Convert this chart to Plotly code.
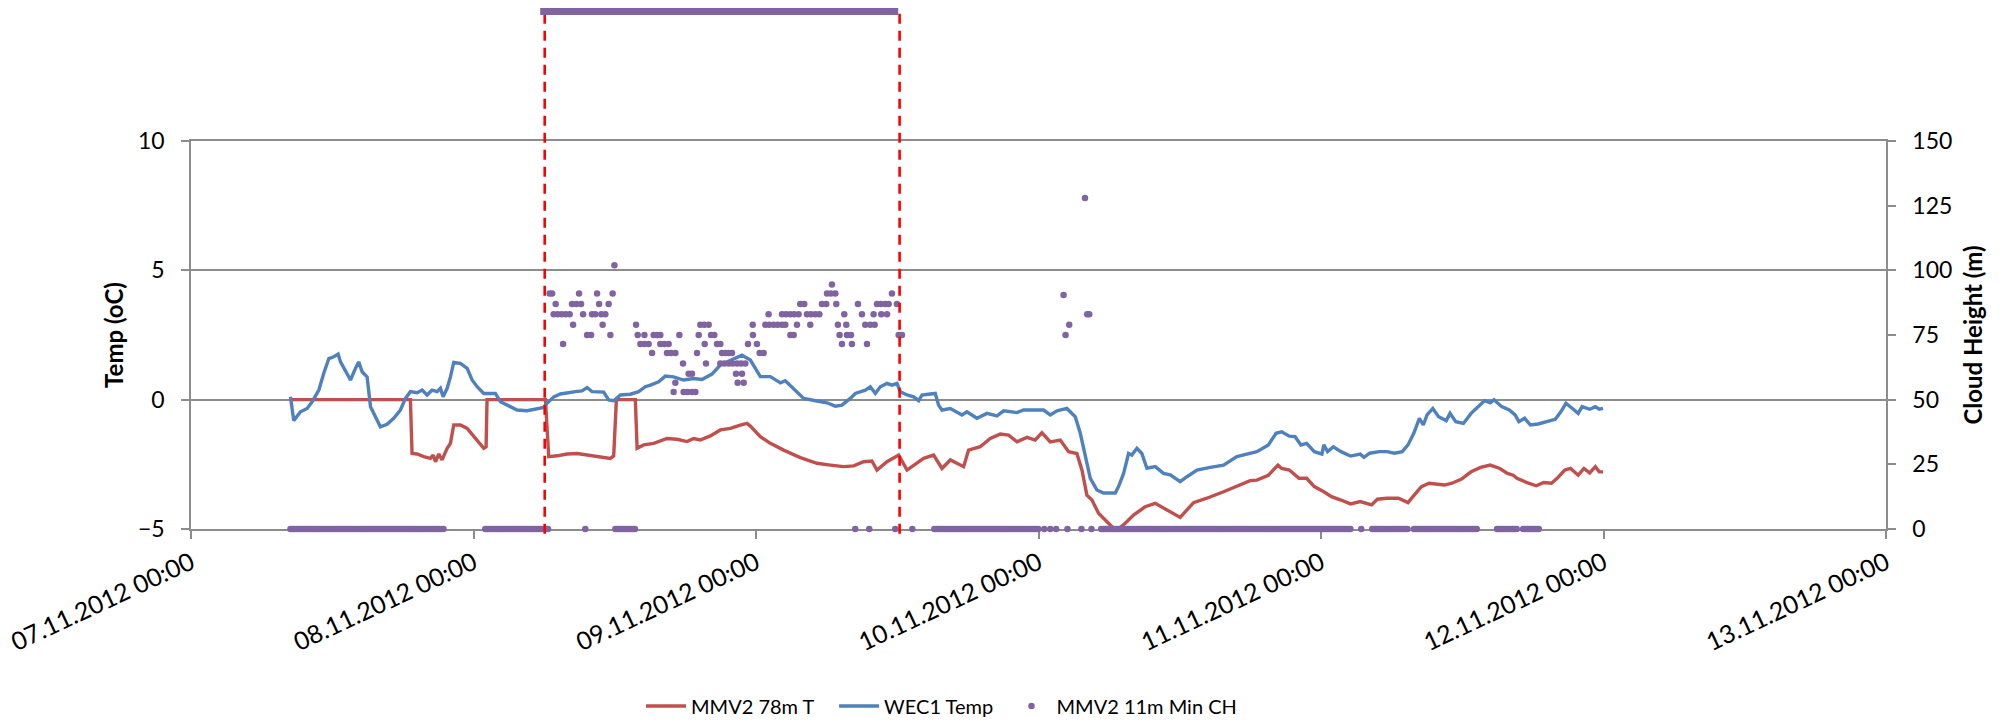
import pandas as pd
import plotly.graph_objects as go

BASE = pd.Timestamp("2012-11-07 00:00")

# ---- WEC1 Temp (hours since 07.11.2012 00:00, degC)
wec1_h = [8.45, 8.73, 9.30, 9.87, 10.29, 10.86, 11.28, 11.71, 12.13, 12.50, 12.70, 13.12, 13.55, 13.97,
          14.25, 14.54, 14.96, 15.25, 15.67, 16.09, 16.66, 17.22, 17.79, 18.22, 18.64, 19.21, 19.64,
          20.06, 20.48, 20.91, 21.19, 21.42, 21.76, 22.04, 22.32, 22.89, 23.46, 23.88, 24.31, 24.87,
          25.44, 25.86, 26.29, 27.14, 27.70, 28.55, 29.40, 29.97, 30.25, 30.82, 31.38, 31.95, 32.66,
          33.22, 33.65, 34.07, 35.06, 35.48, 35.91, 36.48, 37.33, 38.03, 38.60, 39.03, 39.73, 40.30,
          41.00, 41.85, 42.70, 43.41, 44.26, 44.97, 45.82, 46.81, 47.52, 48.37, 49.22, 50.07, 50.49,
          51.20, 52.05, 53.18, 54.03, 54.74, 55.30, 56.01, 56.44, 57.29, 57.71, 58.14, 58.56, 59.13,
          59.55, 59.98, 60.26, 60.83, 61.39, 61.82, 62.10, 62.81, 63.23, 63.51, 63.80, 64.51, 65.50,
          65.92, 66.77, 67.62, 68.47, 69.04, 70.17, 70.73, 71.87, 72.43, 73.00, 73.57, 74.41, 75.12,
          75.55, 75.97, 76.40, 76.96, 77.53, 78.52, 78.80, 79.23, 79.65, 79.93, 80.36, 80.78, 81.21,
          81.92, 82.62, 83.19, 84.04, 84.61, 85.46, 86.59, 87.72, 88.85, 89.98, 90.55, 91.53, 92.18,
          92.66, 93.31, 93.80, 94.29, 94.78, 95.43, 96.08, 96.24, 96.56, 97.05, 97.70, 98.51, 99.33,
          99.65, 100.14, 100.95, 101.60, 102.25, 102.90, 103.39, 103.88, 104.36, 104.69, 105.01,
          105.50, 105.99, 106.64, 106.96, 107.45, 108.10, 108.75, 109.56, 109.89, 110.38, 110.70,
          111.35, 112.00, 112.49, 112.81, 113.30, 113.79, 114.44, 115.25, 115.90, 116.39, 116.81,
          117.36, 117.85, 118.18, 118.83, 119.31, 119.64, 119.96]
wec1_t = [0.11, -0.81, -0.47, -0.34, -0.08, 0.37, 1.02, 1.59, 1.66, 1.76, 1.46, 1.14, 0.76, 1.21,
          1.46, 1.08, 0.88, -0.27, -0.66, -1.05, -0.95, -0.72, -0.40, 0.05, 0.31, 0.27, 0.37,
          0.18, 0.37, 0.31, 0.44, 0.11, 0.44, 0.88, 1.44, 1.40, 1.21, 0.76, 0.50, 0.24,
          0.24, 0.24, -0.08, -0.27, -0.40, -0.43, -0.34, -0.30, -0.14, 0.11, 0.22, 0.27, 0.31,
          0.34, 0.47, 0.31, 0.29, -0.01, -0.04, 0.18, 0.21, 0.31, 0.50, 0.56, 0.69, 0.91,
          0.88, 0.76, 0.82, 0.78, 0.99, 1.34, 1.53, 1.72, 1.53, 0.89, 0.89, 0.65, 0.73,
          0.43, 0.05, -0.05, -0.12, -0.25, -0.21, 0.05, 0.24, 0.37, 0.50, 0.24, 0.50, 0.63,
          0.56, 0.63, 0.31, 0.18, 0.11, -0.04, 0.18, 0.22, 0.24, -0.21, -0.40, -0.34, -0.59,
          -0.47, -0.72, -0.53, -0.63, -0.43, -0.50, -0.40, -0.38, -0.40, -0.59, -0.43, -0.34, -0.66,
          -1.30, -2.20, -3.04, -3.49, -3.61, -3.61, -3.36, -2.85, -2.08, -2.14, -1.88, -2.08, -2.65,
          -2.59, -2.85, -2.91, -3.17, -2.98, -2.72, -2.62, -2.53, -2.20, -2.08, -2.01, -1.75, -1.30,
          -1.24, -1.41, -1.43, -1.75, -1.69, -2.01, -2.10, -1.75, -2.01, -1.82, -2.01, -2.18, -2.10,
          -2.23, -2.07, -2.01, -2.01, -2.07, -2.01, -1.75, -1.30, -0.72, -0.98, -0.59,
          -0.34, -0.66, -0.81, -0.53, -0.85, -0.92, -0.53, -0.21, -0.04, -0.12, 0.00,
          -0.27, -0.40, -0.59, -0.85, -0.72, -0.98, -0.94, -0.85, -0.76, -0.46, -0.14,
          -0.34, -0.53, -0.27, -0.37, -0.27, -0.37, -0.34]

# ---- MMV2 78m T (hours since 07.11.2012 00:00, degC)
mmv2_h = [8.45, 18.64, 18.78, 19.21, 19.77, 20.34, 20.57, 20.77, 21.05, 21.33, 21.76, 22.04, 22.32,
          22.89, 23.46, 24.02, 24.59, 24.87, 25.07, 25.15, 30.11, 30.39, 31.10, 31.95, 32.80, 33.65,
          34.50, 35.06, 35.63, 35.91, 36.14, 37.75, 37.90, 38.46, 39.31, 40.44, 41.29, 42.14, 42.70,
          43.27, 44.12, 44.97, 45.82, 46.67, 47.24, 47.52, 48.37, 49.22, 50.35, 51.77, 53.18, 54.31,
          55.45, 56.30, 57.14, 57.85, 58.28, 59.13, 60.12, 60.83, 61.67, 62.24, 63.09, 63.80, 64.51,
          65.64, 66.06, 67.05, 67.90, 68.75, 69.46, 70.17, 71.02, 71.72, 72.29, 73.00, 73.85, 74.56,
          75.26, 75.69, 76.11, 76.54, 77.10, 77.81, 78.24, 78.66, 79.37, 80.07, 81.06, 81.92, 82.62,
          84.04, 85.17, 86.30, 87.72, 88.85, 89.98, 90.55, 91.53, 92.34, 92.66, 93.31, 94.13, 94.78,
          95.43, 96.24, 96.89, 97.70, 98.51, 99.33, 100.30, 100.79, 101.60, 102.58, 103.39, 104.04,
          104.53, 105.18, 105.83, 106.48, 107.13, 107.94, 108.75, 109.56, 110.38, 111.19, 111.84,
          112.33, 112.65, 112.98, 113.63, 114.28, 114.93, 115.58, 116.06, 116.71, 117.20, 117.85,
          118.34, 118.83, 119.31, 119.64, 119.96]
mmv2_t = [0.00, 0.00, -2.08, -2.10, -2.20, -2.27, -2.14, -2.40, -2.10, -2.33, -1.88, -1.69, -0.98,
          -0.98, -1.11, -1.43, -1.75, -1.88, -1.82, 0.00, 0.00, -2.20, -2.17, -2.10, -2.08, -2.14,
          -2.20, -2.23, -2.27, -2.17, 0.00, 0.00, -1.88, -1.75, -1.69, -1.50, -1.53, -1.62, -1.50,
          -1.56, -1.40, -1.17, -1.11, -0.98, -0.92, -1.02, -1.43, -1.69, -1.95, -2.24, -2.46, -2.53,
          -2.59, -2.56, -2.40, -2.37, -2.72, -2.40, -2.14, -2.72, -2.46, -2.27, -2.14, -2.66, -2.33,
          -2.59, -1.95, -1.82, -1.50, -1.33, -1.37, -1.63, -1.46, -1.56, -1.28, -1.63, -1.56, -2.01,
          -2.08, -2.72, -3.69, -3.88, -4.39, -4.72, -4.91, -5.05, -4.78, -4.46, -4.14, -4.01, -4.20,
          -4.55, -3.98, -3.81, -3.56, -3.36, -3.13, -3.11, -2.92, -2.53, -2.66, -2.72, -3.04, -3.04,
          -3.36, -3.56, -3.75, -3.88, -4.03, -3.94, -4.07, -3.85, -3.81, -3.81, -3.98, -3.62,
          -3.36, -3.23, -3.26, -3.30, -3.23, -3.07, -2.79, -2.62, -2.53, -2.66, -2.85,
          -2.92, -3.04, -3.11, -3.23, -3.33, -3.20, -3.23, -3.04, -2.72, -2.66, -2.92,
          -2.66, -2.83, -2.59, -2.79, -2.79]

# ---- MMV2 11m Min CH (cloud height, m): readings above zero
ch_h = [30.47, 30.68, 32.97, 34.50, 35.82,
        30.98, 32.37, 32.74, 33.14, 34.67, 35.48,
        30.81, 31.15, 31.49, 31.83, 32.17, 33.31, 34.07, 34.35, 34.86, 35.20,
        32.46, 34.97, 37.81, 43.27, 43.61, 43.98,
        33.65, 33.99, 35.63, 37.95, 38.52, 39.31, 39.59, 39.87, 41.49, 43.13, 44.18, 44.46,
        31.61, 38.18, 38.52, 38.88, 39.87, 40.21, 40.58, 43.64, 44.69, 44.97,
        39.17, 40.44, 40.78, 41.15, 42.99, 45.11, 45.40, 45.67, 45.96,
        41.80, 43.75, 44.97, 45.31, 45.68, 46.02, 46.39, 46.73, 47.09,
        42.28, 42.56, 46.30, 46.81,
        41.15, 46.44, 46.95,
        41.00, 41.85, 42.19, 42.56, 42.85,
        35.97,
        54.45,
        54.03, 54.37, 54.74, 59.55,
        51.76, 52.10, 53.60, 53.97, 54.82, 56.66, 58.28, 58.62, 58.98, 59.27, 59.97,
        49.07, 50.21, 50.55, 50.92, 51.25, 51.62, 52.33, 52.67, 53.04, 53.38, 55.50, 57.00, 57.99,
        58.64, 59.13,
        47.72, 48.79, 49.13, 49.50, 49.84, 50.21, 50.49, 51.48, 52.61, 54.96, 55.67, 57.28, 57.71,
        58.08,
        47.74, 50.92, 51.20, 55.10, 55.73, 56.07, 60.12, 60.40,
        47.32, 48.08, 55.30, 56.15, 57.43,
        48.31, 48.65,
        74.13, 74.30, 74.61, 75.95, 76.14, 76.31]
ch_v = [91, 91, 91, 91, 91,
        87, 87, 87, 87, 87, 87,
        83, 83, 83, 83, 83, 83, 83, 83, 83, 83,
        79, 79, 79, 79, 79, 79,
        75, 75, 75, 75, 75, 75, 75, 75, 75, 75, 75, 75,
        71.5, 71.5, 71.5, 71.5, 71.5, 71.5, 71.5, 71.5, 71.5, 71.5,
        68, 68, 68, 68, 68, 68, 68, 68, 68,
        64, 64, 64, 64, 64, 64, 64, 64, 64,
        60, 60, 60, 60,
        56.5, 56.5, 56.5,
        53, 53, 53, 53, 53,
        102,
        94.5,
        91, 91, 91, 91,
        87, 87, 87, 87, 87, 87, 87, 87, 87, 87, 87,
        83, 83, 83, 83, 83, 83, 83, 83, 83, 83, 83, 83, 83,
        83, 83,
        79, 79, 79, 79, 79, 79, 79, 79, 79, 79, 79, 79, 79,
        79,
        75, 75, 75, 75, 75, 75, 75, 75,
        71.5, 71.5, 71.5, 71.5, 71.5,
        68, 68,
        90.5, 75, 79, 128, 83, 83]
# isolated zero readings (hours)
ch_zero_single_h = [33.5, 56.43, 57.62, 59.83, 61.28, 72.49, 73.0, 73.5, 74.46, 75.65, 76.5, 99.42]
# continuous runs of zero readings, 10-minute logging (start hour, end hour)
ch_zero_runs_h = [(8.45, 21.44), (25.0, 30.36), (36.05, 37.75), (63.15, 71.9), (77.33, 98.48),
                  (100.35, 103.33), (103.9, 109.2), (110.96, 112.66), (113.17, 114.44)]
LOG_STEP_H = 1.0 / 6.0

# marked event window
event_start = "2012-11-08 06:03"
event_end = "2012-11-09 12:12"
event_bar = ("2012-11-08 05:40", "2012-11-09 12:05")

x_range = ["2012-11-07 00:00", "2012-11-13 00:00"]


def to_time(hours):
    return BASE + pd.to_timedelta(pd.Series(hours, dtype=float), unit="h")


zero_h = list(ch_zero_single_h)
for a, b in ch_zero_runs_h:
    n = int(round((b - a) / LOG_STEP_H))
    zero_h += [a + i * LOG_STEP_H for i in range(n + 1)]
all_ch = sorted(list(zip(ch_h, ch_v)) + [(h, 0.0) for h in zero_h])
cx = to_time([p[0] for p in all_ch])
cy = [p[1] for p in all_ch]

RED = "#C0504D"
BLUE = "#4F81BD"
PURPLE = "#8064A2"
GRID = "#8C8C8C"
FONT = "Lato, 'Open Sans', sans-serif"

fig = go.Figure()
fig.add_trace(go.Scatter(x=to_time(mmv2_h), y=mmv2_t, mode="lines", name="MMV2 78m T",
                         line=dict(color=RED, width=3.4), legend="legend"))
fig.add_trace(go.Scatter(x=to_time(wec1_h), y=wec1_t, mode="lines", name="WEC1 Temp",
                         line=dict(color=BLUE, width=3.4), legend="legend2"))
fig.add_trace(go.Scatter(x=cx, y=cy, mode="markers", name="MMV2 11m Min CH", yaxis="y2",
                         marker=dict(color=PURPLE, size=6.5, line=dict(width=0)), cliponaxis=False,
                         legend="legend3"))

for xv in (event_start, event_end):
    fig.add_shape(type="line", xref="x", yref="paper", x0=xv, x1=xv, y0=-0.012, y1=1.342,
                  line=dict(color="#FF0000", width=2.6, dash="10px,7px"), layer="above")
fig.add_shape(type="line", xref="x", yref="paper", x0=event_bar[0], x1=event_bar[1],
              y0=1.334, y1=1.334, line=dict(color=PURPLE, width=7), layer="above")

tickfont = dict(family=FONT, size=23, color="#000000")
xtickfont = dict(family=FONT, size=25, color="#000000")
titlefont = dict(family=FONT, size=24, color="#000000")


def legend_at(xpos):
    return dict(orientation="h", xref="container", yref="container",
                x=xpos, xanchor="left", y=0.0275, yanchor="middle",
                font=dict(family=FONT, size=20), bgcolor="rgba(0,0,0,0)", itemwidth=40)


fig.update_layout(
    width=2005, height=726,
    margin=dict(l=191, r=119, t=141, b=197, autoexpand=False),
    paper_bgcolor="white", plot_bgcolor="white",
    font=dict(family=FONT, color="#000000"),
    showlegend=True,
    legend=legend_at(0.3197),
    legend2=legend_at(0.416),
    legend3=legend_at(0.502),
    xaxis=dict(type="date", range=x_range, tick0=x_range[0], dtick=86400000,
               tickformat="%d.%m.%Y %H:%M", tickangle=-25, tickfont=xtickfont,
               ticks="outside", ticklen=8, tickwidth=1.5, tickcolor=GRID,
               showline=True, linecolor=GRID, linewidth=1.5, mirror=True, automargin=False,
               showgrid=False, zeroline=False, layer="below traces"),
    yaxis=dict(range=[-5, 10], dtick=5, tickfont=tickfont, automargin=False,
               ticks="outside", ticklen=8, tickwidth=1.5, tickcolor=GRID, ticklabelstandoff=12,
               showline=True, linecolor=GRID, linewidth=1.5,
               showgrid=True, gridcolor=GRID, gridwidth=1.5, zeroline=False,
               title=dict(text="<b>Temp (oC)</b>", font=titlefont, standoff=8)),
    yaxis2=dict(range=[0, 150], dtick=25, overlaying="y", side="right", tickfont=tickfont,
                automargin=False, ticklabelstandoff=12,
                ticks="outside", ticklen=8, tickwidth=1.5, tickcolor=GRID,
                showline=True, linecolor=GRID, linewidth=1.5, showgrid=False, zeroline=False,
                title=dict(text="<b>Cloud Height (m)</b>", font=titlefont, standoff=14)),
)

fig.write_html("out.html")
